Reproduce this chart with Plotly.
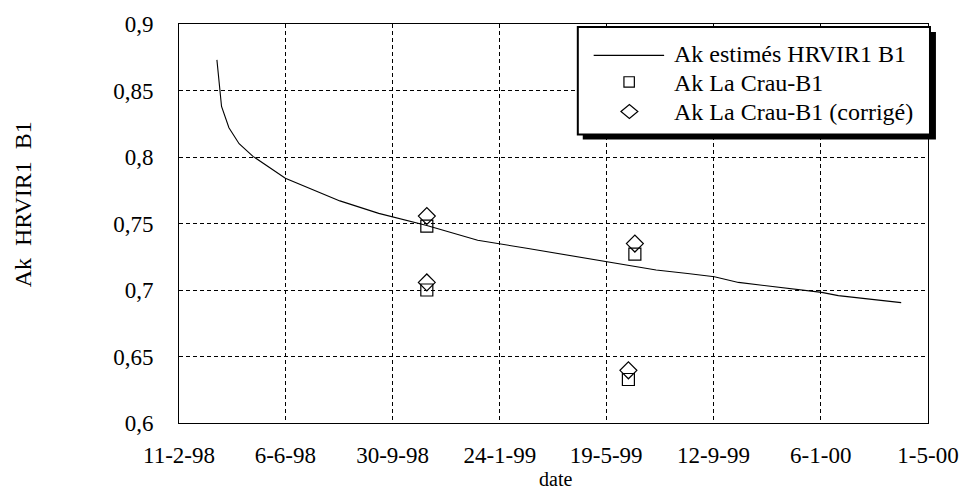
import plotly.graph_objects as go

# ---- data ----
line_dates = ["1998-03-24", "1998-03-29", "1998-04-06", "1998-04-17", "1998-05-02",
              "1998-06-06", "1998-08-04", "1998-09-15", "1998-11-06", "1998-12-31",
              "1999-02-22", "1999-05-19", "1999-07-12", "1999-08-15", "1999-09-13",
              "1999-10-09", "1999-12-02", "2000-01-07", "2000-01-25", "2000-04-02"]
line_values = [0.873, 0.838, 0.822, 0.810, 0.8005,
               0.784, 0.767, 0.7576, 0.7485, 0.7374,
               0.7314, 0.7214, 0.715, 0.7124, 0.710,
               0.7057, 0.7015, 0.6982, 0.6958, 0.6905]

crau_dates = ["1998-11-06", "1998-11-06", "1999-06-12", "1999-06-19"]
crau_values = [0.748, 0.700, 0.6327, 0.727]
crau_corr_values = [0.7556, 0.7057, 0.6396, 0.7349]

x_tick_vals = ["1998-02-11", "1998-06-06", "1998-09-30", "1999-01-24",
               "1999-05-19", "1999-09-12", "2000-01-06", "2000-05-01"]
x_tick_text = ["11-2-98", "6-6-98", "30-9-98", "24-1-99",
               "19-5-99", "12-9-99", "6-1-00", "1-5-00"]
y_tick_vals = [0.6, 0.65, 0.7, 0.75, 0.8, 0.85, 0.9]
y_tick_text = ["0,6", "0,65", "0,7", "0,75", "0,8", "0,85", "0,9"]

legend_labels = ["Ak estimés HRVIR1 B1", "Ak La Crau-B1", "Ak La Crau-B1 (corrigé)"]

FONT = "Liberation Serif"

# plot area in pixels
W, H = 971, 489
L, R, T, B = 179, 934, 22, 423


def px(x):
    return (x - L) / (R - L)


def py(y):
    return (B - y) / (B - T)


fig = go.Figure()
fig.add_trace(go.Scatter(x=line_dates, y=line_values, mode="lines",
                         line=dict(color="black", width=1.1), name=legend_labels[0],
                         showlegend=False))
fig.add_trace(go.Scatter(x=crau_dates, y=crau_values, mode="markers",
                         marker=dict(symbol="square-open", size=12, color="black",
                                     line=dict(width=1.2, color="black")),
                         name=legend_labels[1], showlegend=False))
fig.add_trace(go.Scatter(x=crau_dates, y=crau_corr_values, mode="markers",
                         marker=dict(symbol="diamond-open", size=13, color="black",
                                     line=dict(width=1.2, color="black")),
                         name=legend_labels[2], showlegend=False))

shapes = []
# legend shadow and box
shapes.append(dict(type="rect", xref="paper", yref="paper",
                   x0=px(586), x1=px(942), y0=py(138), y1=py(30),
                   fillcolor="black", line=dict(width=0), layer="above"))
shapes.append(dict(type="rect", xref="paper", yref="paper",
                   x0=px(581), x1=px(936), y0=py(133), y1=py(25),
                   fillcolor="white", line=dict(color="black", width=2), layer="above"))
# legend samples
shapes.append(dict(type="line", xref="paper", yref="paper",
                   x0=px(597), x1=px(668), y0=py(53.5), y1=py(53.5),
                   line=dict(color="black", width=1.1), layer="above"))
shapes.append(dict(type="rect", xref="paper", yref="paper",
                   x0=px(627.5), x1=px(638), y0=py(85.5), y1=py(75),
                   line=dict(color="black", width=1.2), fillcolor="rgba(0,0,0,0)", layer="above"))
cx, cy = 633, 110
shapes.append(dict(type="path", xref="paper", yref="paper",
                   path=(f"M {px(cx-8.5)} {py(cy)} L {px(cx)} {py(cy-7)} "
                         f"L {px(cx+8.5)} {py(cy)} L {px(cx)} {py(cy+7)} Z"),
                   line=dict(color="black", width=1.2), fillcolor="rgba(0,0,0,0)", layer="above"))

annotations = []
for label, yy in zip(legend_labels, [52, 81, 110]):
    annotations.append(dict(text=label, xref="paper", yref="paper", x=px(676), y=py(yy),
                            xanchor="left", yanchor="middle", showarrow=False,
                            font=dict(family=FONT, size=24, color="black")))
annotations.append(dict(text="Ak  HRVIR1  B1", xref="paper", yref="paper", x=px(22), y=py(203),
                        xanchor="center", yanchor="middle", textangle=-90, showarrow=False,
                        font=dict(family=FONT, size=24, color="black")))
annotations.append(dict(text="date", xref="paper", yref="paper", x=px(559), y=py(479),
                        xanchor="center", yanchor="middle", showarrow=False,
                        font=dict(family=FONT, size=20, color="black")))

axis_common = dict(showline=True, linecolor="black", linewidth=1, mirror=True,
                   showgrid=True, gridcolor="black", gridwidth=1, griddash="4px,3px",
                   zeroline=False, ticks="",
                   tickfont=dict(family=FONT, size=23, color="black"))

fig.update_layout(
    width=W, height=H,
    margin=dict(l=L, r=W - R, t=T, b=H - B, pad=0),
    paper_bgcolor="white", plot_bgcolor="white",
    font=dict(family=FONT, color="black"),
    showlegend=False,
    xaxis=dict(type="date", range=["1998-02-11", "2000-05-01"],
               tickmode="array", tickvals=x_tick_vals, ticktext=x_tick_text,
               ticklabelstandoff=11, **axis_common),
    yaxis=dict(range=[0.6, 0.9], tickmode="array", tickvals=y_tick_vals, ticktext=y_tick_text,
               ticklabelstandoff=20, **axis_common),
    shapes=shapes,
    annotations=annotations,
)

fig.write_html("out.html", config={"displayModeBar": False},
               post_script="document.body.style.margin='0';document.body.style.overflow='hidden';")
